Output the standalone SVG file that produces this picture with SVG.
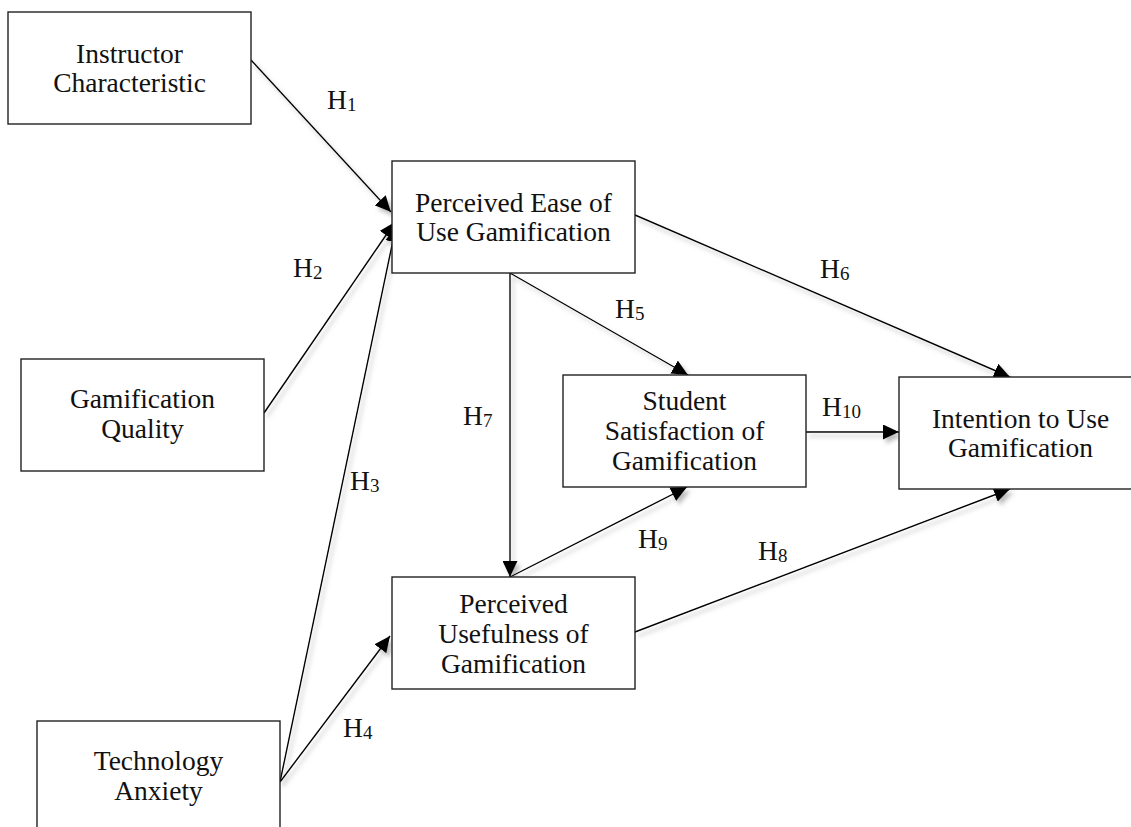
<svg xmlns="http://www.w3.org/2000/svg" width="1131" height="827" viewBox="0 0 1131 827">
<style>
.box{fill:#fff;stroke:#222;stroke-width:1.4}
.t{font-family:"Liberation Serif","Times New Roman",serif;font-size:27.5px;fill:#111;text-anchor:middle}
.h{font-family:"Liberation Serif","Times New Roman",serif;font-size:27.5px;fill:#111}
.sub{font-size:19px}
.c{stroke:#000;stroke-width:1.4;fill:none;marker-end:url(#ah)}
</style>
<defs>
<marker id="ah" markerUnits="userSpaceOnUse" markerWidth="17" markerHeight="15" refX="16" refY="7.5" orient="auto">
<path d="M0,0 L16,7.5 L0,15 z" fill="#000"/>
</marker>
<filter id="sh" x="-10%" y="-10%" width="130%" height="130%">
<feDropShadow dx="3" dy="4" stdDeviation="2" flood-color="#777" flood-opacity="0.5"/>
</filter>
</defs>
<rect width="1131" height="827" fill="#fff"/>
<g id="connectors" filter="url(#sh)">
<line class="c" x1="251" y1="60" x2="391" y2="212"/>
<line class="c" x1="264" y1="413" x2="395" y2="222"/>
<line class="c" x1="280" y1="782" x2="396" y2="226"/>
<line class="c" x1="280" y1="782" x2="390" y2="636"/>
<line class="c" x1="510" y1="273" x2="688" y2="375"/>
<line class="c" x1="510" y1="273" x2="510" y2="577"/>
<line class="c" x1="510" y1="577" x2="687" y2="487"/>
<line class="c" x1="635" y1="215" x2="1010" y2="377"/>
<line class="c" x1="806" y1="432" x2="899" y2="432"/>
<line class="c" x1="635" y1="632" x2="1010" y2="489"/>
</g>
<g id="labels">
<text class="h" x="327" y="109">H<tspan class="sub" dy="2">1</tspan></text>
<text class="h" x="293" y="277">H<tspan class="sub" dy="2">2</tspan></text>
<text class="h" x="350" y="490">H<tspan class="sub" dy="2">3</tspan></text>
<text class="h" x="343" y="737">H<tspan class="sub" dy="2">4</tspan></text>
<text class="h" x="615" y="318">H<tspan class="sub" dy="2">5</tspan></text>
<text class="h" x="820" y="278">H<tspan class="sub" dy="2">6</tspan></text>
<text class="h" x="463" y="425">H<tspan class="sub" dy="2">7</tspan></text>
<text class="h" x="758" y="560">H<tspan class="sub" dy="2">8</tspan></text>
<text class="h" x="638" y="548">H<tspan class="sub" dy="2">9</tspan></text>
<text class="h" x="822" y="416">H<tspan class="sub" dy="2">10</tspan></text>
</g>
<g id="instructor">
<rect class="box" x="8" y="12" width="243" height="112"/>
<text class="t" x="129.5" y="63">Instructor</text>
<text class="t" x="129.5" y="92">Characteristic</text>
</g>
<g id="peou">
<rect class="box" x="392" y="161" width="243" height="112"/>
<text class="t" x="513.5" y="212">Perceived Ease of</text>
<text class="t" x="513.5" y="241">Use Gamification</text>
</g>
<g id="quality">
<rect class="box" x="21" y="359" width="243" height="112"/>
<text class="t" x="142.5" y="408">Gamification</text>
<text class="t" x="142.5" y="438">Quality</text>
</g>
<g id="anxiety">
<rect class="box" x="37" y="721" width="243" height="112"/>
<text class="t" x="158.5" y="770">Technology</text>
<text class="t" x="158.5" y="800">Anxiety</text>
</g>
<g id="pu">
<rect class="box" x="392" y="577" width="243" height="112"/>
<text class="t" x="513.5" y="613">Perceived</text>
<text class="t" x="513.5" y="643">Usefulness of</text>
<text class="t" x="513.5" y="673">Gamification</text>
</g>
<g id="satisfaction">
<rect class="box" x="563" y="375" width="243" height="112"/>
<text class="t" x="684.5" y="410">Student</text>
<text class="t" x="684.5" y="440">Satisfaction of</text>
<text class="t" x="684.5" y="470">Gamification</text>
</g>
<g id="intention">
<rect class="box" x="899" y="377" width="243" height="112"/>
<text class="t" x="1020.5" y="428">Intention to Use</text>
<text class="t" x="1020.5" y="457">Gamification</text>
</g>
</svg>
